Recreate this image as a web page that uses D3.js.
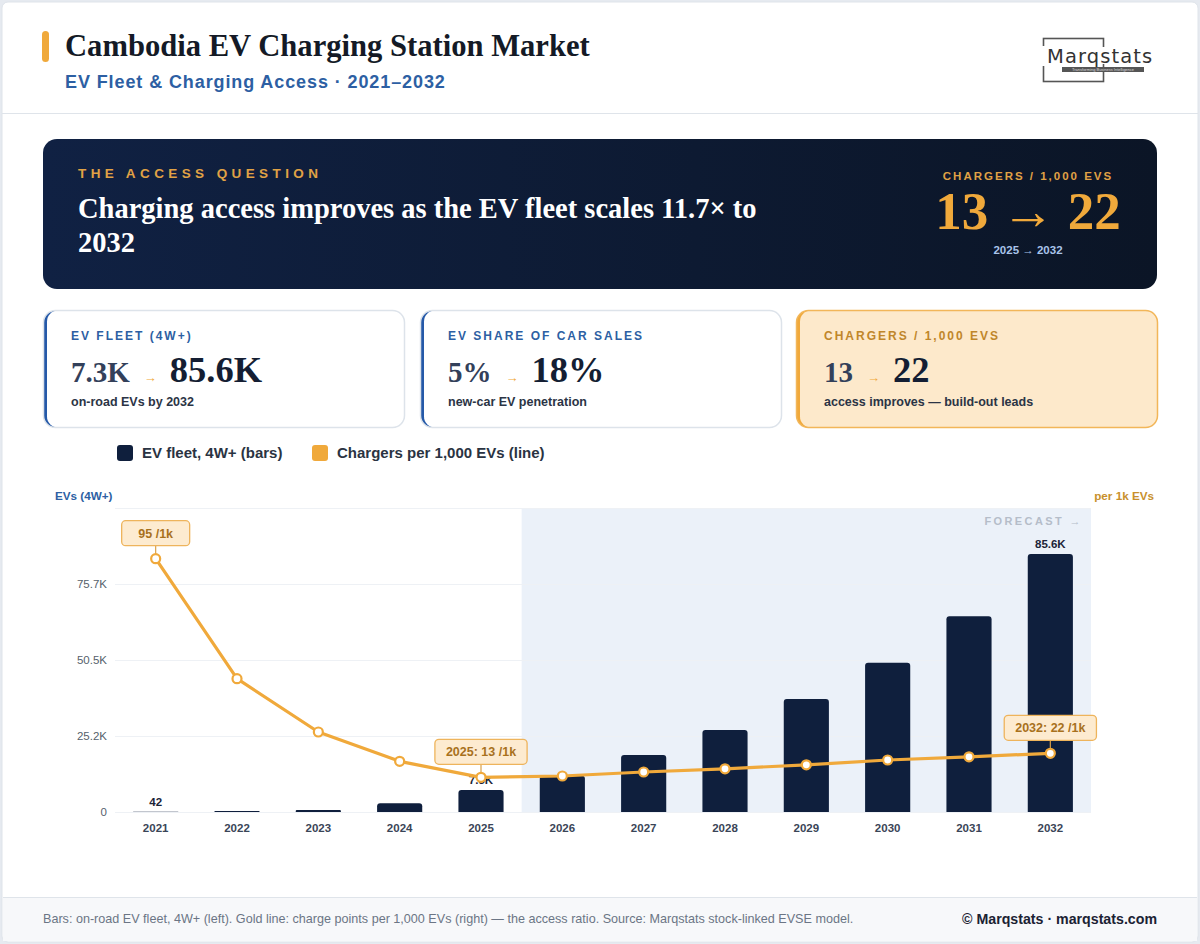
<!DOCTYPE html>
<html>
<head>
<meta charset="utf-8">
<script src="https://cdn.jsdelivr.net/npm/d3@7"></script>
<style>
  html, body { margin: 0; padding: 0; background: #e6eaf0; }
  svg { display: block; }
</style>
</head>
<body>
<svg id="chart"></svg>
<script>
// ---- data ----
const years = ['2021', '2022', '2023', '2024', '2025', '2026', '2027', '2028', '2029', '2030', '2031', '2032'];
const evFleet = [42, 300, 700, 2900, 7300, 12000, 18900, 27200, 37500, 49500, 65000, 85600];
const chargersPer1k = [95, 50, 30, 19, 13, 13.5, 15, 16.2, 17.7, 19.5, 20.7, 22];
const leftTicks = [0, 25225, 50450, 75675, 100900];
const leftTickLabels = ['0', '25.2K', '50.5K', '75.7K', ''];
const barLabels = [[0, '42'], [4, '7.3K'], [11, '85.6K']];
const callouts = [[0, '95 /1k'], [4, '2025: 13 /1k'], [11, '2032: 22 /1k']];
const firstForecast = '2026';

const kpis = [
  {label: 'EV FLEET (4W+)', from: '7.3K', to: '85.6K', sub: 'on-road EVs by 2032', gold: false},
  {label: 'EV SHARE OF CAR SALES', from: '5%', to: '18%', sub: 'new-car EV penetration', gold: false},
  {label: 'CHARGERS / 1,000 EVS', from: '13', to: '22', sub: 'access improves \u2014 build-out leads', gold: true}
];

const SANS = '"Liberation Sans", Arial, sans-serif';
const SERIF = '"Liberation Serif", "Times New Roman", serif';
const NAVY = '#0f1f3d';
const GOLD = '#f0a93b';

const W = 1200, H = 944;
const svg = d3.select('#chart').attr('width', W).attr('height', H);

// page card
svg.append('rect').attr('x', 2).attr('y', 2).attr('width', W - 4).attr('height', H - 4)
  .attr('rx', 6).attr('fill', '#ffffff').attr('stroke', '#dfe4ea');

// ---- header ----
svg.append('rect').attr('x', 42).attr('y', 31).attr('width', 7).attr('height', 31).attr('rx', 3.5).attr('fill', GOLD);
svg.append('text').attr('x', 65).attr('y', 56)
  .attr('font-family', SERIF).attr('font-weight', 700).attr('font-size', 30.6).attr('fill', '#141a26')
  .text('Cambodia EV Charging Station Market');
svg.append('text').attr('x', 65).attr('y', 88)
  .attr('font-family', SANS).attr('font-weight', 700).attr('font-size', 18).attr('letter-spacing', 0.9)
  .attr('fill', '#2d5fa3')
  .text('EV Fleet & Charging Access \u00b7 2021\u20132032');

// logo
const logo = svg.append('g');
logo.append('rect').attr('x', 1043.5).attr('y', 38.5).attr('width', 60).attr('height', 43)
  .attr('fill', 'none').attr('stroke', '#555').attr('stroke-width', 1.6);
logo.append('rect').attr('x', 1040).attr('y', 46).attr('width', 6).attr('height', 20).attr('fill', '#fff');
logo.append('rect').attr('x', 1100).attr('y', 47).attr('width', 8).attr('height', 17).attr('fill', '#fff');
logo.append('text').attr('x', 1047).attr('y', 63)
  .attr('font-family', '"DejaVu Sans", sans-serif').attr('font-size', 19.5).attr('fill', '#333')
  .attr('letter-spacing', 1.1).text('Marqstats');
logo.append('rect').attr('x', 1062).attr('y', 67).attr('width', 82).attr('height', 5).attr('fill', '#555');
logo.append('text').attr('x', 1103).attr('y', 71).attr('text-anchor', 'middle')
  .attr('font-family', SANS).attr('font-size', 4).attr('fill', '#ddd').text('Transforming Business Intelligence');

svg.append('line').attr('x1', 2).attr('x2', W - 2).attr('y1', 113.5).attr('y2', 113.5).attr('stroke', '#dfe4ea');

// ---- hero banner ----
const defs = svg.append('defs');
const grad = defs.append('linearGradient').attr('id', 'heroGrad').attr('x1', 0).attr('x2', 1).attr('y1', 0).attr('y2', 0);
grad.append('stop').attr('offset', 0).attr('stop-color', '#102143');
grad.append('stop').attr('offset', 1).attr('stop-color', '#0b1526');

svg.append('rect').attr('x', 43).attr('y', 139).attr('width', 1114).attr('height', 150).attr('rx', 14)
  .attr('fill', 'url(#heroGrad)');
svg.append('text').attr('x', 78).attr('y', 178)
  .attr('font-family', SANS).attr('font-weight', 700).attr('font-size', 13.5).attr('letter-spacing', 4.4)
  .attr('fill', '#e0a245').text('THE ACCESS QUESTION');
const head = svg.append('text').attr('font-family', SERIF).attr('font-weight', 700).attr('font-size', 28.5)
  .attr('fill', '#ffffff');
head.append('tspan').attr('x', 78).attr('y', 218).text('Charging access improves as the EV fleet scales 11.7\u00d7 to');
head.append('tspan').attr('x', 78).attr('y', 252).text('2032');

svg.append('text').attr('x', 1028).attr('y', 180).attr('text-anchor', 'middle')
  .attr('font-family', SANS).attr('font-weight', 700).attr('font-size', 11.5).attr('letter-spacing', 2)
  .attr('fill', '#e0a245').text('CHARGERS / 1,000 EVS');
svg.append('text').attr('x', 1028).attr('y', 229).attr('text-anchor', 'middle')
  .attr('font-family', SERIF).attr('font-weight', 700).attr('font-size', 53)
  .attr('fill', GOLD).text('13 \u2192 22');
svg.append('text').attr('x', 1028).attr('y', 254).attr('text-anchor', 'middle')
  .attr('font-family', SANS).attr('font-weight', 700).attr('font-size', 11.5)
  .attr('fill', '#a9c4ea').text('2025 \u2192 2032');

// ---- KPI cards ----
const cardX = [43, 420, 796];
const cardW = 361, cardY = 310, cardH = 117;
kpis.forEach((k, i) => {
  const g = svg.append('g').attr('transform', `translate(${cardX[i]},${cardY})`);
  const accent = k.gold ? GOLD : '#2559a8';
  g.append('rect').attr('x', 0.5).attr('y', 0.5).attr('width', cardW).attr('height', cardH).attr('rx', 12)
    .attr('fill', accent);
  g.append('rect').attr('x', 4).attr('y', 0.5).attr('width', cardW - 3.5).attr('height', cardH).attr('rx', 11)
    .attr('fill', k.gold ? '#fde9cb' : '#ffffff');
  g.append('rect').attr('x', 0.5).attr('y', 0.5).attr('width', cardW).attr('height', cardH).attr('rx', 12)
    .attr('fill', 'none').attr('stroke', k.gold ? '#f2b659' : '#dde3ea').attr('stroke-width', 1.5);
  g.append('text').attr('x', 28).attr('y', 30)
    .attr('font-family', SANS).attr('font-weight', 700).attr('font-size', 12).attr('letter-spacing', 2)
    .attr('fill', k.gold ? '#c0862a' : '#2d5fa3').text(k.label);
  const v = g.append('text').attr('x', 28).attr('y', 72).attr('font-family', SERIF).attr('font-weight', 700);
  v.append('tspan').attr('font-size', 29).attr('fill', '#33405a').text(k.from);
  v.append('tspan').attr('font-size', 13).attr('fill', GOLD).attr('dx', 14).attr('font-family', SANS).text('\u2192');
  v.append('tspan').attr('font-size', 36.5).attr('fill', '#141e33').attr('dx', 13).text(k.to);
  g.append('text').attr('x', 28).attr('y', 96)
    .attr('font-family', SANS).attr('font-weight', 700).attr('font-size', 12.5).attr('fill', '#2b3445').text(k.sub);
});

// ---- legend ----
const legend = [['EV fleet, 4W+ (bars)', NAVY, 117], ['Chargers per 1,000 EVs (line)', GOLD, 312]];
legend.forEach(([t, c, x]) => {
  svg.append('rect').attr('x', x).attr('y', 445).attr('width', 16).attr('height', 16).attr('rx', 3).attr('fill', c);
  svg.append('text').attr('x', x + 25).attr('y', 458)
    .attr('font-family', SANS).attr('font-weight', 700).attr('font-size', 15).attr('fill', '#2a3342').text(t);
});

// ---- chart ----
const plot = {left: 115, right: 1091, top: 508, bottom: 812};
const x = d3.scaleBand().domain(years).range([plot.left, plot.right]).padding(0);
const step = x.step();
const barW = step * 0.555;
const yL = d3.scaleLinear().domain([0, leftTicks[leftTicks.length - 1]]).range([plot.bottom, plot.top]);
const yR = d3.scaleLinear().domain([0, 114]).range([plot.bottom, plot.top]);
const cx = d => x(d) + step / 2;

// forecast shading
svg.append('rect').attr('x', x(firstForecast)).attr('y', plot.top)
  .attr('width', plot.right - x(firstForecast)).attr('height', plot.bottom - plot.top).attr('fill', '#ebf1f9');
svg.append('text').attr('x', plot.right - 8).attr('y', 525).attr('text-anchor', 'end')
  .attr('font-family', SANS).attr('font-weight', 700).attr('font-size', 11).attr('letter-spacing', 2.4)
  .attr('fill', '#b5bdc9').text('FORECAST \u2192');

// grid + left axis labels
svg.append('g').selectAll('line').data(leftTicks).join('line')
  .attr('x1', plot.left).attr('x2', plot.right)
  .attr('y1', d => Math.round(yL(d)) + 0.5).attr('y2', d => Math.round(yL(d)) + 0.5)
  .attr('stroke', '#eef1f5');
const yAxis = d3.axisLeft(yL).tickValues(leftTicks).tickSize(0).tickPadding(8)
  .tickFormat((d, i) => leftTickLabels[i]);
svg.append('g').attr('transform', `translate(${plot.left},0)`).call(yAxis)
  .call(g => g.select('.domain').remove())
  .selectAll('text').attr('font-family', SANS).attr('font-size', 11.5).attr('fill', '#565f6c');

svg.append('text').attr('x', 55).attr('y', 500)
  .attr('font-family', SANS).attr('font-weight', 700).attr('font-size', 11.7).attr('fill', '#2d5fa3').text('EVs (4W+)');
svg.append('text').attr('x', 1154).attr('y', 500).attr('text-anchor', 'end')
  .attr('font-family', SANS).attr('font-weight', 700).attr('font-size', 11.7).attr('fill', '#c8902c').text('per 1k EVs');

// x axis
const xAxis = d3.axisBottom(x).tickSize(0).tickPadding(12);
svg.append('g').attr('transform', `translate(0,${plot.bottom})`).call(xAxis)
  .call(g => g.select('.domain').remove())
  .selectAll('text').attr('font-family', SANS).attr('font-weight', 700).attr('font-size', 11.5).attr('fill', '#3a4557');

// bars
const rows = years.map((yr, i) => ({year: yr, ev: evFleet[i], ratio: chargersPer1k[i]}));
svg.append('g').selectAll('path').data(rows).join('path')
  .attr('fill', NAVY)
  .attr('d', d => {
    const x0 = cx(d.year) - barW / 2, x1 = x0 + barW;
    const y0 = yL(d.ev), yb = plot.bottom;
    const r = Math.min(3, (yb - y0) / 2);
    return `M${x0},${yb}V${y0 + r}Q${x0},${y0} ${x0 + r},${y0}H${x1 - r}Q${x1},${y0} ${x1},${y0 + r}V${yb}Z`;
  });
svg.append('g').selectAll('text').data(barLabels).join('text')
  .attr('x', d => cx(years[d[0]])).attr('y', d => yL(evFleet[d[0]]) - 6).attr('text-anchor', 'middle')
  .attr('font-family', SANS).attr('font-weight', 700).attr('font-size', 11.5).attr('fill', '#1b2438')
  .text(d => d[1]);

// line
const line = d3.line().x(d => cx(d.year)).y(d => yR(d.ratio));
svg.append('path').datum(rows).attr('d', line).attr('fill', 'none')
  .attr('stroke', GOLD).attr('stroke-width', 3.2).attr('stroke-linejoin', 'round');

// callout connectors behind points
callouts.forEach(([i, t]) => {
  const px = cx(years[i]), py = yR(chargersPer1k[i]);
  svg.append('line').attr('x1', px).attr('x2', px).attr('y1', py - 13).attr('y2', py)
    .attr('stroke', '#d9a04a').attr('stroke-width', 1.2);
});

svg.append('g').selectAll('circle').data(rows).join('circle')
  .attr('cx', d => cx(d.year)).attr('cy', d => yR(d.ratio)).attr('r', 4.5)
  .attr('fill', '#ffffff').attr('stroke', GOLD).attr('stroke-width', 2.2);

// callout boxes
callouts.forEach(([i, t]) => {
  const px = cx(years[i]), py = yR(chargersPer1k[i]);
  const g = svg.append('g');
  const txt = g.append('text').attr('x', px).attr('y', py - 21).attr('text-anchor', 'middle')
    .attr('font-family', SANS).attr('font-weight', 700).attr('font-size', 12.5).attr('fill', '#a8711d').text(t);
  const bw = Math.max(68, txt.node().getComputedTextLength() + 22);
  g.insert('rect', 'text').attr('x', px - bw / 2).attr('y', py - 38).attr('width', bw).attr('height', 25)
    .attr('rx', 4).attr('fill', '#fdebd0').attr('stroke', '#eeb45c').attr('stroke-width', 1.3);
});

// ---- footer ----
svg.append('rect').attr('x', 3).attr('y', 897).attr('width', W - 6).attr('height', 44).attr('fill', '#f7f8fa');
svg.append('line').attr('x1', 3).attr('x2', W - 3).attr('y1', 897.5).attr('y2', 897.5).attr('stroke', '#dfe4ea');
svg.append('text').attr('x', 43).attr('y', 923)
  .attr('font-family', SANS).attr('font-size', 12.6).attr('fill', '#6b7585')
  .text('Bars: on-road EV fleet, 4W+ (left). Gold line: charge points per 1,000 EVs (right) \u2014 the access ratio. Source: Marqstats stock-linked EVSE model.');
svg.append('text').attr('x', 1157).attr('y', 924).attr('text-anchor', 'end')
  .attr('font-family', SANS).attr('font-weight', 700).attr('font-size', 14.2).attr('fill', '#1b2233')
  .text('\u00a9 Marqstats \u00b7 marqstats.com');
</script>
</body>
</html>
